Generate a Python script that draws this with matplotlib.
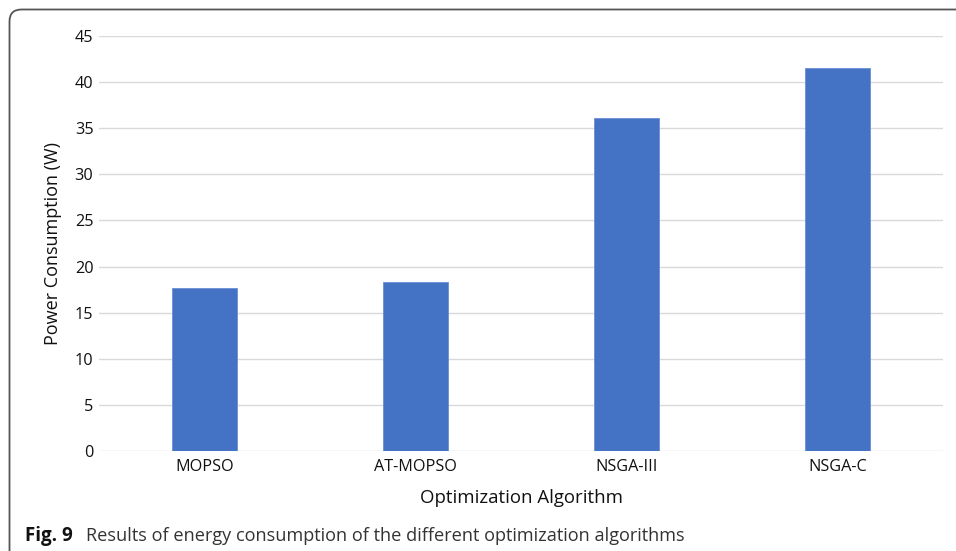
import matplotlib.pyplot as plt
from matplotlib.path import Path
from matplotlib.patches import PathPatch

algorithms = ['MOPSO', 'AT-MOPSO', 'NSGA-III', 'NSGA-C']
power = [17.7, 18.3, 36.1, 41.5]
yticks = [0, 5, 10, 15, 20, 25, 30, 35, 40, 45]

plt.rcParams['font.family'] = ['Open Sans', 'DejaVu Sans']

fig = plt.figure(figsize=(9.56, 5.51), dpi=100)
ax = fig.add_axes([0.1036, 0.1815, 0.8828, 0.7532])

x = range(len(algorithms))
ax.bar(x, power, width=0.31, color='#4472C4', edgecolor='#6b8fd4', linewidth=0.6, zorder=3)

ax.set_xlim(-0.5, 3.5)
ax.set_ylim(0, 45)
ax.set_yticks(yticks)
ax.set_xticks(list(x))
ax.set_xticklabels(algorithms)
ax.grid(axis='y', color='#d9d9d9', linewidth=1, zorder=0)
for s in ax.spines.values():
    s.set_visible(False)
ax.tick_params(length=0, labelsize=11.7, colors='#111111')
ax.tick_params(axis='y', pad=4)
ax.tick_params(axis='x', pad=6)
ax.set_ylabel('Power Consumption (W)', fontsize=13, color='#111111', labelpad=9)
ax.set_xlabel('Optimization Algorithm', fontsize=13.4, color='#111111', labelpad=10)

# frame: top and left border with rounded corner
W, H = 956, 551
x0, y0, r = 9.5 / W, 1 - 9.5 / H, 12
verts = [(x0, 0), (x0, y0 - r / H), (x0, y0), (x0 + r / W, y0), (1, y0)]
codes = [Path.MOVETO, Path.LINETO, Path.CURVE3, Path.CURVE3, Path.LINETO]
fig.patches.append(PathPatch(Path(verts, codes), transform=fig.transFigure,
                             fill=False, edgecolor='#555555', linewidth=1.3))

fig.text(25 / W, 1 - 536 / H, 'Fig. 9', fontsize=13.5, fontweight='bold', va='center', color='#111111')
fig.text(86 / W, 1 - 536 / H, 'Results of energy consumption of the different optimization algorithms',
         fontsize=13.1, va='center', color='#333333')

fig.savefig('out.png', dpi=100)
